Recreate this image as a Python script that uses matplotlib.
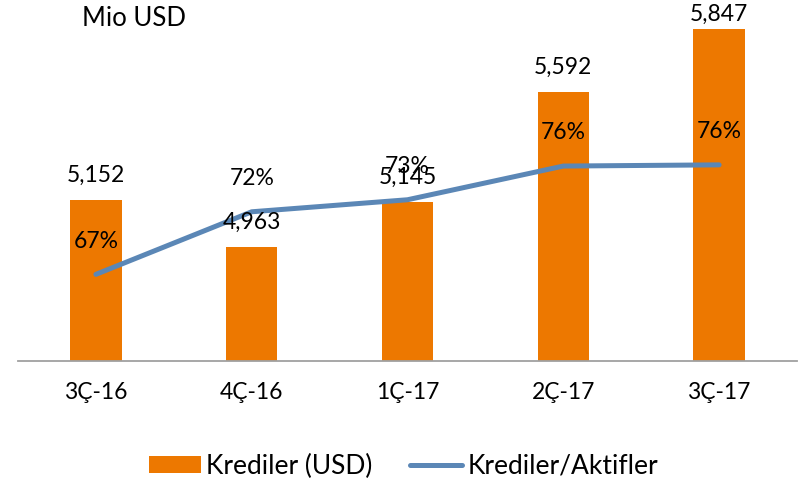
import numpy as np
import matplotlib.pyplot as plt

# Veriler
quarters = ['3Ç-16', '4Ç-16', '1Ç-17', '2Ç-17', '3Ç-17']
loans_usd = [5152, 4963, 5145, 5592, 5847]          # Mio USD
loans_to_assets = [67.2, 72.4, 73.4, 76.2, 76.3]    # %

orange = '#ED7800'
blue = '#5B87B6'
fs = 16.5

plt.rcParams['font.family'] = ['Lato', 'DejaVu Sans']

fig = plt.figure(figsize=(8.07, 4.80), dpi=100)
ax = fig.add_axes([18 / 807, 119 / 480, 779 / 807, 361 / 480])

x = np.arange(len(quarters))
bars = ax.bar(x, loans_usd, width=0.33, color=orange, label='Krediler (USD)')
ax.set_xlim(-0.5, len(quarters) - 0.5)
ax.set_ylim(4500, 5966)

for side in ['top', 'left', 'right']:
    ax.spines[side].set_visible(False)
ax.spines['bottom'].set_color('#A0A0A0')
ax.spines['bottom'].set_linewidth(1.3)
ax.set_yticks([])
ax.set_xticks(x, quarters)
ax.tick_params(axis='x', length=0, pad=15, labelsize=fs)

# Ikincil eksen: Krediler/Aktifler
ax2 = ax.twinx()
ax2.set_ylim(60, 90)
line, = ax2.plot(x, loans_to_assets, color=blue, lw=3.6,
                 solid_capstyle='round', label='Krediler/Aktifler')
ax2.set_axis_off()

# Etiketler (çizginin üstünde kalsın diye ax2'ye ekleniyor)
fig_h = fig.get_size_inches()[1] * fig.dpi
for xi, v in zip(x, loans_usd):
    top_px = ax.transData.transform((xi, v))[1]
    # etiket resmin dışına taşmasın
    off = min(18, (fig_h - 14 - top_px) * 72 / fig.dpi)
    ax2.annotate(f'{v:,}', (xi, v), xycoords=ax.transData,
                 xytext=(0, off), textcoords='offset points',
                 ha='center', va='center', fontsize=fs)
for xi, p in zip(x, loans_to_assets):
    ax2.annotate(f'{p:.0f}%', (xi, p), xytext=(0, 24),
                 textcoords='offset points',
                 ha='center', va='center', fontsize=fs)

fig.text(82 / 807, 1 - 19 / 480, 'Mio USD', va='center', ha='left', fontsize=18.5)

fig.legend(handles=[bars, line], loc='center', bbox_to_anchor=(0.5, 1 - 466 / 480),
           ncol=2, frameon=False, fontsize=19, handlelength=1.97, handleheight=0.6,
           handletextpad=0.2, columnspacing=1.44)

fig.savefig('out.png', dpi=100)
